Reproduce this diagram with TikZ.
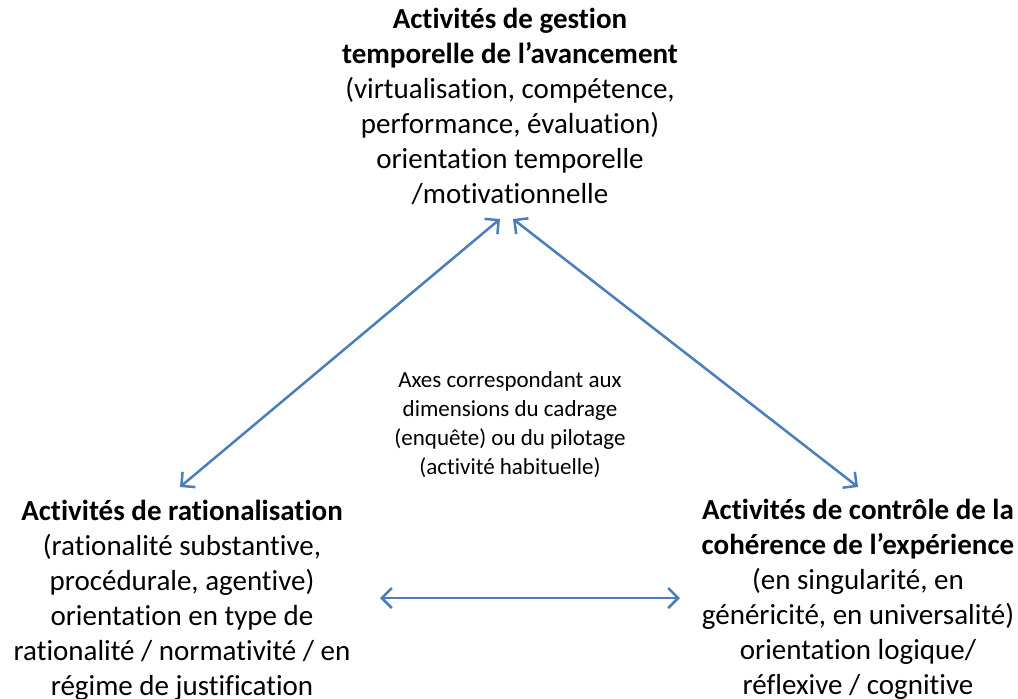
\documentclass[tikz,border=0pt]{standalone}
\usepackage{fontspec}
\setmainfont{Carlito}[Ligatures={NoCommon}]
\usepackage{tikz}
\usetikzlibrary{arrows.meta}

\definecolor{axisblue}{HTML}{4A7EBB}

\begin{document}
\begin{tikzpicture}[x=1pt, y=-1pt,
    pole/.style={align=center, inner sep=0pt, font=\fontsize{29}{35}\selectfont},
    note/.style={align=center, inner sep=0pt, font=\fontsize{23}{29}\selectfont},
    axis/.style={draw=axisblue, line width=2.5pt, {Straight Barb[length=10pt, width=20pt]}-{Straight Barb[length=10pt, width=20pt]}}]
    \useasboundingbox (0, 0) rectangle (1018, 699);

    \node[pole] (top) at (510, 106) {\textbf{Activités de gestion}\\\textbf{temporelle de l’avancement}\\(virtualisation, compétence,\\performance, évaluation)\\orientation temporelle\\/motivationnelle};
    \node[pole] (left) at (182, 600) {\textbf{Activités de rationalisation}\\(rationalité substantive,\\procédurale, agentive)\\orientation en type de\\rationalité / normativité / en\\régime de justification};
    \node[pole] (right) at (858, 599) {\textbf{Activités de contrôle de la}\\\textbf{cohérence de l’expérience}\\(en singularité, en\\généricité, en universalité)\\orientation logique/\\réflexive / cognitive};
    \node[note] (axes) at (510, 425) {Axes correspondant aux\\dimensions du cadrage\\(enquête) ou du pilotage\\(activité habituelle)};

    \coordinate (topL) at (500, 219);
    \coordinate (topR) at (513, 219);
    \coordinate (leftT) at (180, 487);
    \coordinate (rightT) at (858, 487);
    \coordinate (leftB) at (380, 598);
    \coordinate (rightB) at (680, 598);

    \draw[axis] (topL) -- (leftT);
    \draw[axis] (topR) -- (rightT);
    \draw[axis] (leftB) -- (rightB);
\end{tikzpicture}
\end{document}
